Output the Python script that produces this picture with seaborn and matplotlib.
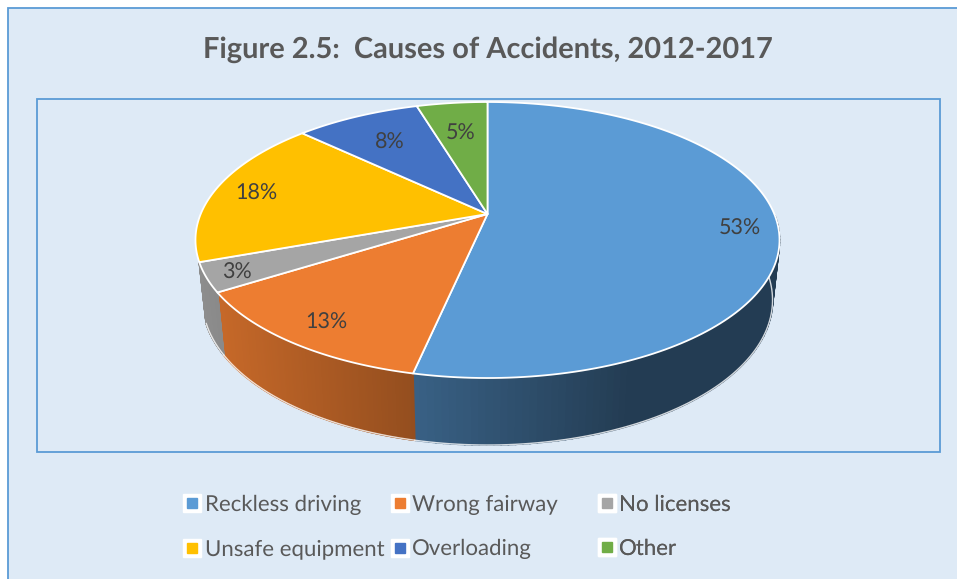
import numpy as np
import seaborn as sns
import matplotlib.pyplot as plt
from matplotlib.lines import Line2D
from matplotlib.legend_handler import HandlerTuple
from matplotlib.patches import Polygon, Rectangle

title = "Figure 2.5:  Causes of Accidents, 2012-2017"
causes = ["Reckless driving", "Wrong fairway", "No licenses",
          "Unsafe equipment", "Overloading", "Other"]
shares = [53.4, 12.7, 3.4, 17.5, 8.3, 4.7]
hex_colors = ["#5b9bd5", "#ed7d31", "#a5a5a5", "#ffc000", "#4472c4", "#70ad47"]
label_dist = [0.87, 0.85, 0.90, 0.85, 0.72, 0.71]

sns.set_theme(style="white")
plt.rcParams['font.family'] = ['Lato', 'DejaVu Sans']
plt.rcParams['text.hinting'] = 'none'
palette = sns.color_palette(hex_colors)

BG = "#deeaf6"
LINE = "#5b9bd5"
TEXT = "#595959"


# perspective: pie disc (x, v) to picture pixels
def project(x, v):
    x, v = np.asarray(x), np.asarray(v)
    den = 1 + 0.1884 * v
    return 487.5 + 286.8 * x / den, (214 - 92.8 * v) / den


# same rim, moved down to the bottom of the slab
def drop(px, py):
    return 487.5 + (px - 487.5) * 285 / 292, 300 + (py - 240) * 145 / 138


def shade(px):
    return np.clip(0.85 - (px - 205) * 0.00108, 0.39, 1)


fig = plt.figure(figsize=(9.57, 5.79), dpi=100, facecolor="white")
ax = fig.add_axes([0, 0, 1, 1])

wedges, texts, autotexts = ax.pie(
    shares, colors=palette, startangle=90, counterclock=False,
    autopct="%.0f%%", pctdistance=1.0, textprops=dict(color="#404040", fontsize=15.5))

ax.set_aspect("auto")
ax.set_xlim(0, 957)
ax.set_ylim(579, 0)
ax.set_axis_off()

ax.add_patch(Rectangle((8, 8), 960, 580, fc=BG, ec=LINE, lw=1.3, zorder=0))
ax.add_patch(Rectangle((37, 99), 903, 353, fc="none", ec=LINE, lw=1.3, zorder=0.5))

for w, color, at, d in zip(wedges, palette, autotexts, label_dist):
    ang = np.radians(np.linspace(w.theta1, w.theta2, 160))
    rim_x, rim_y = project(np.cos(ang), np.sin(ang))
    low_x, low_y = drop(rim_x, rim_y)

    # side wall, only for slices facing the viewer
    mid = np.radians((w.theta1 + w.theta2) / 2)
    if np.sin(mid) < 0.1:
        keep = np.sin(ang) < 0.0
        rx, ry, lx, ly = rim_x[keep], rim_y[keep], low_x[keep], low_y[keep]
        for i in range(len(rx) - 1):
            f = shade((rx[i] + rx[i + 1]) / 2)
            c = tuple(np.array(color) * f)
            ax.fill([rx[i], rx[i + 1], lx[i + 1], lx[i]],
                    [ry[i], ry[i + 1], ly[i + 1], ly[i]],
                    fc=c, ec=c, lw=1.2, zorder=1)
        ax.plot(lx, ly, color="white", lw=1.0, alpha=0.8, zorder=1.2)
        for j in (0, -1):
            if ang[j] > np.pi and ang[j] < 2 * np.pi and np.sin(ang[j]) < -0.2:
                ax.plot([rx[j], lx[j]], [ry[j], ly[j]], color="#f4f4f4", lw=1.2, zorder=1.3)

    cx, cy = project(0, 0)
    top = Polygon(np.column_stack([np.r_[cx, rim_x], np.r_[cy, rim_y]]), closed=True,
                  fc=color, ec="white", lw=1.3, joinstyle="round", zorder=2)
    w.remove()
    ax.add_patch(top)

    tx, ty = at.get_position()
    px, py = project(tx * d, ty * d)
    at.set_position((px, py + 2))
    at.set_zorder(3)
    at.set_ha("center")
    at.set_va("center")

for t in texts:
    t.set_visible(False)

fig.suptitle(title, x=487.5 / 957, y=1 - 49.5 / 579, va="center", ha="center",
             fontsize=20.9, fontweight="bold", color=TEXT)

# legend: three columns with their own spacing, as in the original
col_x = [184, 391.5, 598.5]
for n, x in enumerate(col_x):
    idx = [n, n + 3]
    handles = [(Line2D([], [], marker="s", ms=12.5, color="white", ls=""),
                Line2D([], [], marker="s", ms=6.5, color=palette[i], ls="")) for i in idx]
    leg = ax.legend(handles, [causes[i] for i in idx], loc="upper left",
                    bbox_to_anchor=(x, 495), bbox_transform=ax.transData,
                    frameon=False, borderpad=0, borderaxespad=0, handlelength=0.72,
                    handletextpad=0.22, labelspacing=1.08, fontsize=16, labelcolor=TEXT,
                    handler_map={tuple: HandlerTuple(ndivide=1, pad=0)})
    ax.add_artist(leg)

fig.savefig("out.png", dpi=100, facecolor=fig.get_facecolor())
